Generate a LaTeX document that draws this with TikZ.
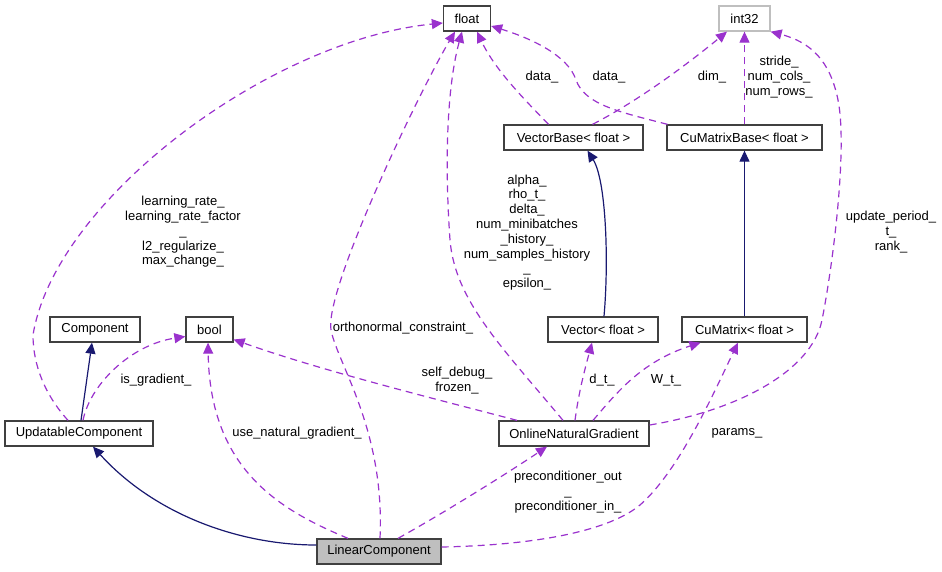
\documentclass[tikz,border=0pt]{standalone}
\usepackage{fontspec}
\setmainfont{Liberation Sans}
\usetikzlibrary{arrows.meta}

\definecolor{edgenavy}{HTML}{191970}
\definecolor{edgepurple}{HTML}{9A32CD}
\definecolor{boxgray}{HTML}{404040}
\definecolor{palegray}{HTML}{BFBFBF}

\tikzset{
  cls/.style={draw=boxgray, line width=1.3pt, fill=white, minimum height=25pt,
    inner sep=0pt, font=\fontsize{13}{15}\selectfont},
  inherit/.style={color=edgenavy, line width=1.2pt, -{Triangle[length=11pt,width=10pt]}},
  usage/.style={color=edgepurple, line width=1.2pt, dash pattern=on 7pt off 5pt,
    -{Triangle[length=11pt,width=10pt]}},
  lbl/.style={align=center, inner sep=0pt, font=\fontsize{13}{14.8}\selectfont}
}

\begin{document}
\begin{tikzpicture}[x=1pt, y=-1pt]
    \useasboundingbox (0,0) rectangle (942,571);

    % Classes
    \node[cls, minimum width=47pt] (fl) at (467,18.5) {float};
    \node[cls, draw=palegray, minimum width=51pt] (i32) at (744.5,18.5) {int32};
    \node[cls, minimum width=139pt] (vb) at (573.5,137.5) {VectorBase< float >};
    \node[cls, minimum width=155pt] (cmb) at (744.5,137.5) {CuMatrixBase< float >};
    \node[cls, minimum width=90pt] (comp) at (95,329.5) {Component};
    \node[cls, minimum width=47pt] (bool) at (209.5,329.5) {bool};
    \node[cls, minimum width=110pt] (vec) at (603,329.5) {Vector< float >};
    \node[cls, minimum width=125pt] (cum) at (744.5,329.5) {CuMatrix< float >};
    \node[cls, minimum width=148pt] (uc) at (79,433.5) {UpdatableComponent};
    \node[cls, minimum width=150pt] (ong) at (574,433.5) {OnlineNaturalGradient};
    \node[cls, fill=palegray, minimum width=124pt] (lc) at (379,551.5) {LinearComponent};

    % Inheritance
    \draw[inherit] ([xshift=2pt]uc.north) -- ([xshift=-3pt]comp.south);
    \draw[inherit] ([yshift=6.5pt]lc.west) .. controls (240,545) and (155,515) .. ([xshift=14pt]uc.south);
    \draw[inherit] ([xshift=1pt]vec.north) .. controls (609,260) and (606,180) .. ([xshift=14pt]vb.south);
    \draw[inherit] (cum.north) -- (cmb.south);

    % Members
    \draw[usage] ([xshift=-11pt]uc.north) .. controls (45,395) and (33,365) .. (33,335)
        .. controls (55,200) and (270,40) .. ([yshift=-4.5pt]fl.west);
    \draw[usage] ([xshift=4pt]uc.north) .. controls (90,385) and (130,345) .. ([yshift=-7pt]bool.west);
    \draw[usage] ([xshift=-31pt]lc.north) .. controls (280,510) and (210,470) .. ([xshift=-1.5pt]bool.south);
    \draw[usage] ([xshift=1pt]lc.north) .. controls (385,430) and (338,365) .. (331,330)
        .. controls (324,290) and (420,90) .. ([xshift=-12pt]fl.south);
    \draw[usage] ([xshift=-11pt]ong.north) .. controls (500,345) and (455,300) .. (450,240)
        .. controls (445,170) and (446,90) .. ([xshift=-5pt]fl.south);
    \draw[usage] ([xshift=-57pt]ong.north) .. controls (420,395) and (320,370) .. ([yshift=-10pt]bool.east);
    \draw[usage] ([xshift=1pt]ong.north) .. controls (579,390) and (586,365) .. ([xshift=-11pt]vec.south);
    \draw[usage] ([xshift=19pt]ong.north) .. controls (615,395) and (640,362) .. ([xshift=-44pt]cum.south);
    \draw[usage] ([yshift=4.5pt]lc.east) .. controls (540,545) and (610,530) .. (640,505)
        .. controls (680,470) and (715,390) .. ([xshift=-6.5pt]cum.south);
    \draw[usage] ([xshift=19pt]lc.north) .. controls (440,515) and (500,478) .. ([xshift=-27pt]ong.south);
    \draw[usage] ([yshift=8.5pt]ong.east) .. controls (740,410) and (812,370) .. (822,320)
        .. controls (832,270) and (848,150) .. (838,100)
        .. controls (830,60) and (810,42) .. (i32.south east);
    \draw[usage] ([xshift=-25pt]vb.north) .. controls (525,100) and (495,70) .. ([xshift=10pt]fl.south);
    \draw[usage] ([xshift=19pt]vb.north) .. controls (640,100) and (690,62) .. ([xshift=-17.5pt]i32.south);
    \draw[usage] ([xshift=-77pt]cmb.north) .. controls (620,112) and (585,105) .. (576,80)
        .. controls (568,55) and (530,38) .. ([yshift=-7.5pt]fl.east);
    \draw[usage] (cmb.north) -- (i32.south);

    % Member labels
    \node[lbl] (lrlbl) at (183,232) {learning\_rate\_\\learning\_rate\_factor\\\_\\l2\_regularize\_\\max\_change\_};
    \node[lbl] (isglbl) at (156,380) {is\_gradient\_};
    \node[lbl] (unglbl) at (297,433) {use\_natural\_gradient\_};
    \node[lbl] (onclbl) at (403,328) {orthonormal\_constraint\_};
    \node[lbl] (onglbl) at (527,232.5) {alpha\_\\rho\_t\_\\delta\_\\num\_minibatches\\\_history\_\\num\_samples\_history\\\_\\epsilon\_};
    \node[lbl] (sdlbl) at (457,380.5) {self\_debug\_\\frozen\_};
    \node[lbl] (dtlbl) at (602,380) {d\_t\_};
    \node[lbl] (wtlbl) at (666,380) {W\_t\_};
    \node[lbl] (parlbl) at (737,433) {params\_};
    \node[lbl] (prelbl) at (568,492) {preconditioner\_out\\\_\\preconditioner\_in\_};
    \node[lbl] (updlbl) at (891,232) {update\_period\_\\t\_\\rank\_};
    \node[lbl] (vdlbl) at (542,77) {data\_};
    \node[lbl] (dimlbl) at (712,77) {dim\_};
    \node[lbl] (cdlbl) at (609,77) {data\_};
    \node[lbl] (strlbl) at (779,77) {stride\_\\num\_cols\_\\num\_rows\_};

\end{tikzpicture}
\end{document}
